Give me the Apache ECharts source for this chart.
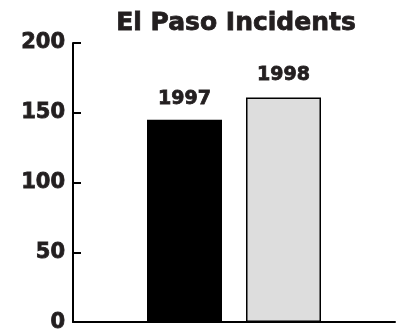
<!DOCTYPE html>
<html><head><meta charset="utf-8">
<script src="https://cdn.jsdelivr.net/npm/echarts@6/dist/echarts.min.js"></script>
<style>html,body{margin:0;padding:0;background:#fff}#c{width:401px;height:333px}</style>
</head><body><div id="c"></div>
<script>
const title = 'El Paso Incidents';
const categories = ['El Paso'];
const seriesNames = ['1997', '1998'];
const values1997 = [145];
const values1998 = [161];
const yTicks = [0, 50, 100, 150, 200];

const font = 'DejaVu Sans';
const ink = '#231f20';
const heavy = {fontFamily: font, fontWeight: 'bold', color: ink, textBorderColor: ink, textBorderWidth: 0.8};
const chart = echarts.init(document.getElementById('c'), null, {renderer: 'canvas'});
chart.setOption({
  animation: false,
  title: {text: title, left: 231, textAlign: 'center', top: 6,
    textStyle: Object.assign({fontSize: 25}, heavy)},
  grid: {left: 73, right: 6, top: 43, bottom: 8, containLabel: false},
  xAxis: {type: 'category', data: categories,
    axisLine: {lineStyle: {color: '#000', width: 2}},
    axisTick: {show: false}, axisLabel: {show: false}},
  yAxis: {type: 'value', min: yTicks[0], max: yTicks[yTicks.length-1], interval: 50,
    axisLine: {show: true, lineStyle: {color: '#000', width: 2}},
    axisTick: {show: true, inside: true, length: 8, lineStyle: {color: '#000', width: 2}},
    splitLine: {show: false},
    axisLabel: Object.assign({fontSize: 21, margin: 8}, heavy)},
  series: [
    {name: seriesNames[0], type: 'bar', data: values1997, barWidth: 75, barGap: '32%',
      itemStyle: {color: '#000'},
      label: Object.assign({show: true, position: 'top', distance: 11, formatter: seriesNames[0], fontSize: 19}, heavy)},
    {name: seriesNames[1], type: 'bar', data: values1998, barWidth: 75,
      itemStyle: {color: '#dddddd', borderColor: '#000', borderWidth: 1.5},
      label: Object.assign({show: true, position: 'top', distance: 13, formatter: seriesNames[1], fontSize: 19}, heavy)}
  ]
});
</script></body></html>
